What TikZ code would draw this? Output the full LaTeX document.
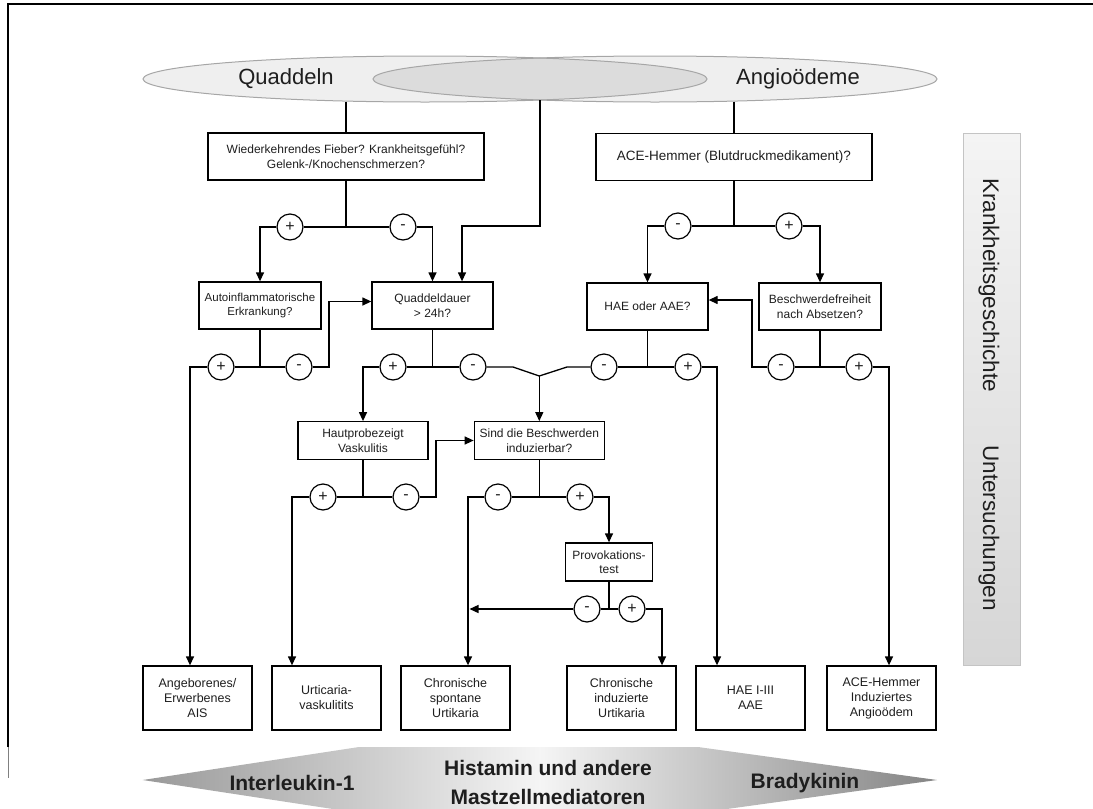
\documentclass[tikz,border=0pt]{standalone}
\usepackage{fontspec}
\setmainfont{Liberation Sans}
\usetikzlibrary{arrows.meta,shapes.geometric}
\definecolor{ellfill}{HTML}{EFEFEF}
\definecolor{lensfill}{HTML}{DCDCDC}
\definecolor{ellline}{HTML}{A6A6A6}
\definecolor{txt}{HTML}{1E1E1E}
\definecolor{barTop}{HTML}{F4F4F4}
\definecolor{barBot}{HTML}{D6D6D6}
\definecolor{barLine}{HTML}{C4C4C4}
\begin{document}
\begin{tikzpicture}[x=1pt,y=-1pt,
  every node/.style={text=txt},
  box/.style={draw=black, line width=1.3pt, align=center, inner sep=0pt, font=\fontsize{12}{14.5}\selectfont},
  sgn/.style={draw=black, circle, minimum size=26pt, inner sep=0pt, fill=white, line width=1.2pt, font=\fontsize{16}{16}\selectfont},
  con/.style={line width=1.3pt, draw=black},
  arr/.style={con, -{Triangle[length=9pt,width=8pt]}},
  ell/.style={ellipse, draw=none, minimum width=564pt, minimum height=46pt, inner sep=0pt},
  btm/.style={box, minimum width=109pt, minimum height=64pt, font=\fontsize{12.5}{15}\selectfont},
  big/.style={font=\fontsize{21}{29}\selectfont\bfseries, align=center}
]
\useasboundingbox (0,0) rectangle (1093,809);
% frame
\draw[line width=1.8pt] (8,747) -- (8,4) -- (1094,4);
\draw[line width=1pt, gray] (8,747) -- (8,778);
% ellipses
\node[ell, fill=ellfill] (EL) at (425,79) {};
\node[ell, fill=ellfill] (ER) at (655,79) {};
\begin{scope}
\clip (425,79) ellipse [x radius=282, y radius=23];
\fill[lensfill] (655,79) ellipse [x radius=282, y radius=23];
\end{scope}
\draw[ellline, line width=1pt] (425,79) ellipse [x radius=282, y radius=23];
\draw[ellline, line width=1pt] (655,79) ellipse [x radius=282, y radius=23];
\node[font=\fontsize{22}{22}\selectfont] (tQ) at (286,79) {Quaddeln};
\node[font=\fontsize{22}{22}\selectfont] (tA) at (798,79) {Angioödeme};
\coordinate (lensB) at (540,100);
\coordinate (eL) at (346,101.5);
\coordinate (eR) at (734,101.5);
% top boxes
\node[box, minimum width=276pt, minimum height=47pt] (WF) at (346,156.5) {Wiederkehrendes Fieber? Krankheitsgefühl?\\Gelenk-/Knochenschmerzen?};
\node[box, minimum width=276pt, minimum height=47pt, font=\fontsize{13.5}{16}\selectfont] (ACE) at (734,157) {ACE-Hemmer (Blutdruckmedikament)?};
\draw[con] (eL) -- (WF.north);
\draw[con] (eR) -- (ACE.north);
% second row boxes
\node[box, minimum width=122pt, minimum height=47pt, font=\fontsize{11.5}{14}\selectfont] (AI) at (260,305.5) {Autoinflammatorische\\Erkrankung?};
\node[box, minimum width=121pt, minimum height=47pt] (QD) at (432.5,305.5) {Quaddeldauer\\> 24h?};
\node[box, minimum width=121pt, minimum height=47pt] (HA) at (647.5,306.5) {HAE oder AAE?};
\node[box, minimum width=122pt, minimum height=47pt] (BF) at (820,306.5) {Beschwerdefreiheit\\nach Absetzen?};
% third row boxes
\node[box, minimum width=130pt, minimum height=37.5pt] (HP) at (363,440.5) {Hautprobezeigt\\Vaskulitis};
\node[box, minimum width=130pt, minimum height=37.5pt] (SB) at (539.3,440.5) {Sind die Beschwerden\\induzierbar?};
\node[box, minimum width=86.5pt, minimum height=38pt] (PT) at (609,562) {Provokations-\\test};
% bottom boxes
\node[btm] (AG) at (197.5,698) {Angeborenes/\\Erwerbenes\\AIS};
\node[btm] (UV) at (326.5,698) {Urticaria-\\vaskulitits};
\node[btm] (CS) at (455.5,698) {Chronische\\spontane\\Urtikaria};
\node[btm] (CI) at (621.5,698) {Chronische\\induzierte\\Urtikaria};
\node[btm] (HI) at (750.5,698) {HAE I-III\\AAE};
\node[btm] (AH) at (881.5,698) {ACE-Hemmer\\Induziertes\\Angioödem};
% branch under WF
\coordinate (j0) at (346,227);
\node[sgn] (p1) at (290,227) {+};
\node[sgn] (m1) at (403,227) {-};
\draw[con] (WF.south) -- (j0);
\draw[con] (p1) -- (m1);
\draw[arr] (p1.west) -| (AI.north);
\draw[arr] (m1.east) -| (QD.north);
\coordinate (j1) at (540,226);
\draw[arr] (lensB) -- (j1) -| ([xshift=29.5pt]QD.north);
% branch under ACE
\coordinate (j2) at (734,226);
\node[sgn] (m6) at (678,226) {-};
\node[sgn] (p6) at (789,226) {+};
\draw[con] (ACE.south) -- (j2);
\draw[con] (m6) -- (p6);
\draw[arr] (m6.west) -| (HA.north);
\draw[arr] (p6.east) -| (BF.north);
% branch under AI
\coordinate (j3) at (260,367);
\node[sgn] (p2) at (221,367) {+};
\node[sgn] (m2) at (299,367) {-};
\draw[con] (AI.south) -- (j3);
\draw[con] (p2) -- (m2);
\draw[arr] (p2.west) -| ([xshift=-7.5pt]AG.north);
\coordinate (k2) at (329,367);
\draw[arr] (m2.east) -- (k2) |- ([yshift=4pt]QD.west);
% branch under QD
\coordinate (j4) at (432.5,367);
\node[sgn] (p3) at (393,367) {+};
\node[sgn] (m3) at (473,367) {-};
\draw[con] (QD.south) -- (j4);
\draw[con] (p3) -- (m3);
\draw[arr] (p3.west) -| (HP.north);
% branch under HA
\coordinate (j5) at (647.5,367);
\node[sgn] (m4) at (604,367) {-};
\node[sgn] (p4) at (688,367) {+};
\draw[con] (HA.south) -- (j5);
\draw[con] (m4) -- (p4);
\draw[arr] (p4.east) -| ([xshift=-33.5pt]HI.north);
% merge
\coordinate (v1) at (513,367);
\coordinate (mg) at (539.3,376);
\coordinate (v2) at (567,367);
\draw[con] (m3.east) -- (v1) -- (mg) -- (v2) -- (m4.west);
\draw[arr] (mg) -- (SB.north);
% branch under BF
\coordinate (j6) at (820,367);
\node[sgn] (m5) at (781,367) {-};
\node[sgn] (p5) at (859,367) {+};
\draw[con] (BF.south) -- (j6);
\draw[con] (m5) -- (p5);
\draw[arr] (p5.east) -| ([xshift=7.5pt]AH.north);
\coordinate (k5) at (752,367);
\draw[arr] (m5.west) -- (k5) |- ([yshift=6.5pt]HA.east);
% branch under HP
\coordinate (j7) at (363,497);
\node[sgn] (p7) at (323,497) {+};
\node[sgn] (m7) at (406,497) {-};
\draw[con] (HP.south) -- (j7);
\draw[con] (p7) -- (m7);
\draw[arr] (p7.west) -| ([xshift=-34.5pt]UV.north);
\coordinate (k7) at (436,497);
\draw[arr] (m7.east) -- (k7) |- (SB.west);
% branch under SB
\coordinate (j8) at (539.3,497);
\node[sgn] (m8) at (498,497) {-};
\node[sgn] (p8) at (580,497) {+};
\draw[con] (SB.south) -- (j8);
\draw[con] (m8) -- (p8);
\draw[arr] (m8.west) -| ([xshift=12.5pt]CS.north);
\draw[arr] (p8.east) -| (PT.north);
% branch under PT
\coordinate (j9) at (609,609);
\node[sgn] (m9) at (587,609) {-};
\node[sgn] (p9) at (632,609) {+};
\draw[con] (PT.south) -- (j9);
\draw[con] (m9) -- (p9);
\coordinate (k9) at (469.5,609);
\draw[arr] (m9.west) -- (k9);
\draw[arr] (p9.east) -| ([xshift=40.5pt]CI.north);
% side bar
\node[draw=barLine, line width=1pt, top color=barTop, bottom color=barBot, minimum width=57pt, minimum height=532pt, inner sep=0pt] (BAR) at (992,399) {};
\node[rotate=-90, font=\fontsize{22.5}{22.5}\selectfont] (KG) at (989,285) {Krankheitsgeschichte};
\node[rotate=-90, font=\fontsize{22.5}{22.5}\selectfont] (US) at (989,528) {Untersuchungen};
% bottom arrow
\shade[left color=black!40, right color=black!48, middle color=black!4] (142.7,780) -- (359,747) -- (698,747) -- (937,780) -- (698,813) -- (359,813) -- cycle;
\node[big] (IL) at (292,783) {Interleukin-1};
\node[big] (HM) at (548,782) {Histamin und andere\\Mastzellmediatoren};
\node[big] (BK) at (805,783) {Bradykinin};
\end{tikzpicture}
\end{document}
